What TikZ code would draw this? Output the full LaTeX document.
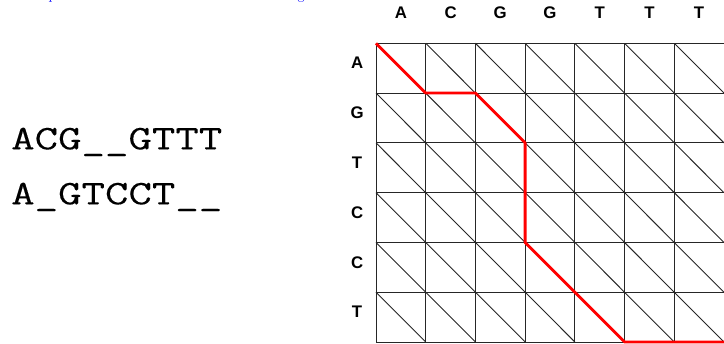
\documentclass[tikz,border=0pt]{standalone}
\usepackage{fontspec}
\usepackage{graphicx}
\newfontfamily\labfont{Liberation Sans}
\newfontfamily\seqfont{Latin Modern Mono}[FakeBold=0.2]
\begin{document}
\begin{tikzpicture}[x=1pt,y=-1pt,
  lab/.style={font=\labfont\bfseries\fontsize{16.8}{16.8}\selectfont, inner sep=0pt},
  seq/.style={font=\seqfont\fontsize{34.5}{34.5}\selectfont, inner sep=0pt, anchor=base west},
  gridline/.style={black!85, line width=0.9pt},
  pathline/.style={red, line width=2.8pt, line join=round},
  cut/.style={text=blue, font=\fontsize{14}{14}\selectfont, anchor=base, inner sep=0pt}]
\useasboundingbox (0,0) rectangle (724,344);
% cut-off caption above (only descenders visible)
\node[cut] (cp) at (52.5,0) {p};
\node[cut] (cg) at (301,0) {g};
% alignment text
\node[seq] (s1) at (11,149.3) {\scalebox{1.32}[1]{ACG\_\_GTTT}};
\node[seq] (s2) at (11,204.3) {\scalebox{1.32}[1]{A\_GTCCT\_\_}};
\begin{scope}[shift={(376,43.3)}, x=49.71pt, y=-49.78pt]
  \foreach \i in {0,...,7}
    \draw[gridline] (\i,0) -- (\i,6);
  \foreach \j in {0,...,6}
    \draw[gridline] (0,\j) -- (7,\j);
  \foreach \i in {0,...,6}
    \foreach \j in {0,...,5}
      \draw[gridline] (\i,\j) -- (\i+1,\j+1);
  \foreach \c [count=\i from 0] in {A,C,G,G,T,T,T}
    \node[lab] (col\i) at (\i+0.5,-0.61) {\c};
  \foreach \r [count=\j from 0] in {A,G,T,C,C,T}
    \node[lab] (row\j) at (-0.38,\j+0.4) {\r};
  \coordinate (p0) at (0,0);
  \coordinate (p1) at (1,1);
  \coordinate (p2) at (2,1);
  \coordinate (p3) at (3,2);
  \coordinate (p4) at (3,4);
  \coordinate (p5) at (5,6);
  \coordinate (p6) at (7,6);
  \draw[pathline] (p0) -- (p1) -- (p2) -- (p3) -- (p4) -- (p5) -- (p6);
\end{scope}
\end{tikzpicture}
\end{document}
